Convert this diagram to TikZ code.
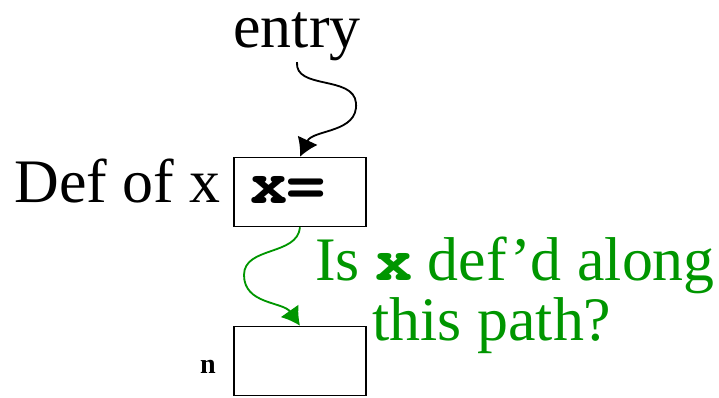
\documentclass[tikz,border=0pt]{standalone}
\usepackage{fontspec}
\setmainfont{Liberation Serif}
\setmonofont{TeX Gyre Cursor}
\usepackage{xcolor}
\usepackage{tikz}
\usetikzlibrary{positioning,arrows.meta}
\definecolor{pathgreen}{RGB}{0,150,0}
\newcommand{\vname}[1]{{\ttfamily\bfseries #1}}

\begin{document}
\begin{tikzpicture}[
  x=0.025cm, y=0.025cm,
  font=\fontsize{44}{42}\selectfont,
  block/.style={draw, line width=1.2pt, minimum width=3.3cm, minimum height=1.72cm, inner sep=0pt},
  flow/.style={-{Latex[length=4.5mm,width=5.5mm]}, line width=1.3pt},
  ask/.style={text=pathgreen, align=center}
]
\useasboundingbox (0,0) rectangle (719,397);
\node[block] (def) at (300,205) {};
\node[block] (use) at (300,36) {};
\node[anchor=base, inner sep=0pt] (entry) at (297,350) {entry};
\node[anchor=base east, inner sep=0pt] (deflabel) at (221,195) {Def of x};
\node[anchor=base west, inner sep=0pt] (assign) at (250,194) {\vname{x=}};
\node[anchor=base east, inner sep=0pt, font=\fontsize{20}{24}\selectfont\bfseries] (nlabel) at (216,24) {n};
\node[ask, anchor=base] (question) at (515,57) {Is \vname{x} def'd along\\this path?\hspace*{1.15cm}};

\coordinate (bendA) at (356,294);
\coordinate (bendB) at (244,122);
\draw[flow] ([yshift=-1pt]entry.south) to[out=-95,in=95] (bendA) to[out=-85,in=65] (def.north);
\draw[flow, pathgreen] (def.south) to[out=-95,in=90] (bendB) to[out=-90,in=125] (use.north);
\end{tikzpicture}
\end{document}
